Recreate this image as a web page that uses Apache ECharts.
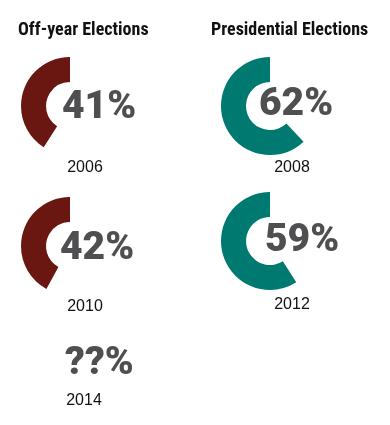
<!DOCTYPE html>
<html>
<head>
<meta charset="utf-8">
<script src="https://cdn.jsdelivr.net/npm/echarts@6/dist/echarts.min.js"></script>
<style>html,body{margin:0;padding:0;background:#fff}#c{width:390px;height:425px}</style>
</head>
<body>
<div id="c"></div>
<script>
const groups = ['Off-year Elections', 'Presidential Elections'];
const years = ['2006', '2008', '2010', '2012', '2014'];
const turnout = [41, 62, 42, 59, null];
const groupOf = [0, 1, 0, 1, 0];

const colors = ['#6B1711', '#007A70'];
// layout (pixels) per item
const centers = [[70, 106], [270, 106], [70, 246], [270, 241], [70, 380]];
const pctX = [62, 259, 60, 265, 65];
const pctY = [108, 105, 249, 241, 364];
const yearY = [168, 168, 307, 305, 401];
const yearX = [85, 292, 85, 292, 84];

const chart = echarts.init(document.getElementById('c'));
const series = [];
const graphic = [];
years.forEach((y, i) => {
  if (turnout[i] != null) {
    series.push({
      type: 'pie', silent: true, animation: false,
      center: centers[i], radius: [24, 49],
      startAngle: 90, clockwise: false,
      label: { show: false }, labelLine: { show: false },
      data: [
        { value: turnout[i], itemStyle: { color: colors[groupOf[i]] } },
        { value: 100 - turnout[i], itemStyle: { color: 'rgba(0,0,0,0)' } }
      ]
    });
  }
  graphic.push({
    type: 'text', x: pctX[i], y: pctY[i], z: 10,
    style: { text: (turnout[i] == null ? '??' : turnout[i]) + '%', fill: '#4f4f51',
      textVerticalAlign: 'middle',
      font: '900 39px Roboto, Lato, sans-serif' }
  });
  graphic.push({
    type: 'text', x: yearX[i], y: yearY[i],
    style: { text: y, fill: '#111', textAlign: 'center', textVerticalAlign: 'middle',
      font: '16px "Liberation Sans", Arial, sans-serif' }
  });
});
graphic.push({ type: 'text', x: 18, y: 30, style: { text: groups[0], fill: '#111', textVerticalAlign: 'middle',
  font: 'bold 18px "Liberation Sans Narrow", "Roboto Condensed", sans-serif' } });
graphic.push({ type: 'text', x: 211, y: 30, style: { text: groups[1], fill: '#111', textVerticalAlign: 'middle',
  font: 'bold 18px "Liberation Sans Narrow", "Roboto Condensed", sans-serif' } });

chart.setOption({ animation: false, series, graphic });
</script>
</body>
</html>
